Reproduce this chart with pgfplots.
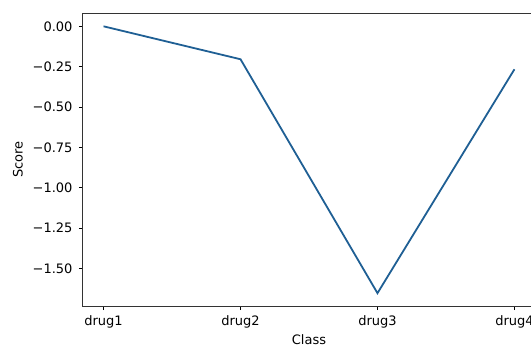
\documentclass[border=0pt]{standalone}
\usepackage{pgfplots}
\pgfplotsset{compat=1.18}
\usepackage{fontspec}
\setmainfont{DejaVu Sans}
\definecolor{mplblue}{HTML}{1F5F94}
\begin{document}
\begin{tikzpicture}
\begin{axis}[
  at={(83pt,40pt)}, anchor=south west,
  scale only axis, width=452pt, height=293pt,
  xmin=-0.15, xmax=3.15, ymin=-1.7325, ymax=0.0825,
  xtick={0,1,2,3}, xticklabels={drug1,drug2,drug3,drug4},
  ytick={-1.5,-1.25,-1,-0.75,-0.5,-0.25,0},
  yticklabels={−1.50,−1.25,−1.00,−0.75,−0.50,−0.25,0.00},
  tick pos=left, tick align=outside, major tick length=4pt,
  tick style={black, line width=0.8pt},
  axis line style={line width=1pt, black!80},
  ticklabel style={font=\fontsize{13}{15}\selectfont},
  label style={font=\fontsize{13}{15}\selectfont},
  xticklabel style={yshift=-2pt},
  yticklabel style={xshift=-3pt},
  xlabel={Class}, ylabel={Score},
  xlabel style={at={(axis description cs:0.5,0)}, anchor=center, yshift=-34pt},
  ylabel style={at={(axis description cs:-0.144,0.5)}, anchor=center},
  /pgf/number format/assume math mode=true,
]
\addplot[mplblue, line width=1.8pt] coordinates {
  (0,0) (1,-0.204) (2,-1.653) (3,-0.266)
};
\end{axis}
\pgfresetboundingbox
\path[use as bounding box] (0,0) rectangle (531pt,346pt);
\end{tikzpicture}
\end{document}
